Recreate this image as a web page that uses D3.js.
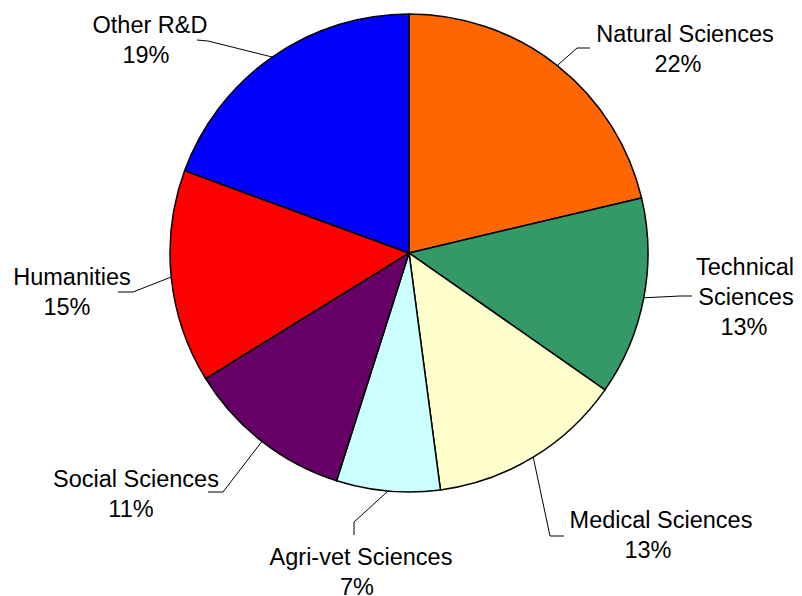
<!DOCTYPE html>
<html><head><meta charset="utf-8">
<script src="https://cdn.jsdelivr.net/npm/d3@7"></script>
<style>html,body{margin:0;padding:0;background:#fff;}</style>
</head><body>
<svg id="chart" width="802" height="596"></svg>
<script>
const categories = ["Natural Sciences","Technical Sciences","Medical Sciences","Agri-vet Sciences","Social Sciences","Humanities","Other R&D"];
const values = [21.3, 13.4, 13.2, 7.0, 11.3, 14.4, 19.4];
const pctLabels = ["22%","13%","13%","7%","11%","15%","19%"];
const colors = ["#FF6600","#339966","#FFFFCC","#CCFFFF","#660066","#FF0000","#0000FF"];

// label layout (positions only)
const labelLines = [
  [["Natural Sciences",685,42],["22%",678,72]],
  [["Technical",745,275],["Sciences",746,305],["13%",744,335]],
  [["Medical Sciences",661,528],["13%",648,558]],
  [["Agri-vet Sciences",361,565],["7%",357,595]],
  [["Social Sciences",136,487],["11%",131,517]],
  [["Humanities",72,285],["15%",67,315]],
  [["Other R&D",150,33],["19%",146,63]]
];
const leaderEnds = [[590,48],[692,296],[564,536],[354,535],[208,492],[118,292],[197,40]];
const leaderElbows = [[577,48],[680,296],[550,536],[354,522],[223,492],[133,292],[208,41]];

const cx = 409, cy = 253, r = 239;
const svg = d3.select("#chart");
const g = svg.append("g").attr("transform", `translate(${cx},${cy})`);

const data = categories.map((c,i)=>({name:c, value:values[i], color:colors[i], idx:i}));
const pie = d3.pie().value(d=>d.value).sort(null);
const arc = d3.arc().innerRadius(0).outerRadius(r);
const arcs = pie(data);

g.selectAll("path.slice").data(arcs).join("path")
  .attr("class","slice")
  .attr("d", arc)
  .attr("fill", d=>d.data.color)
  .attr("stroke","#000")
  .attr("stroke-width",1.5)
  .attr("stroke-linejoin","round");

// leader lines
arcs.forEach((a,i)=>{
  const mid = (a.startAngle + a.endAngle)/2;
  const px = cx + r*Math.sin(mid), py = cy - r*Math.cos(mid);
  const pts = [leaderEnds[i], leaderElbows[i], [px,py]];
  svg.append("path")
    .attr("d", d3.line()(pts))
    .attr("fill","none")
    .attr("stroke","#000")
    .attr("stroke-width",1);
});

// labels
arcs.forEach((a,i)=>{
  const t = svg.append("text")
    .attr("font-family","'Liberation Sans', Arial, sans-serif")
    .attr("font-size","23.5px")
    .attr("fill","#000")
    .attr("text-anchor","middle");
  labelLines[i].forEach((ln,j)=>{
    const txt = (j === labelLines[i].length-1) ? pctLabels[i] : ln[0];
    t.append("tspan").attr("x", ln[1]).attr("y", ln[2]).text(txt);
  });
});
</script>
</body></html>
